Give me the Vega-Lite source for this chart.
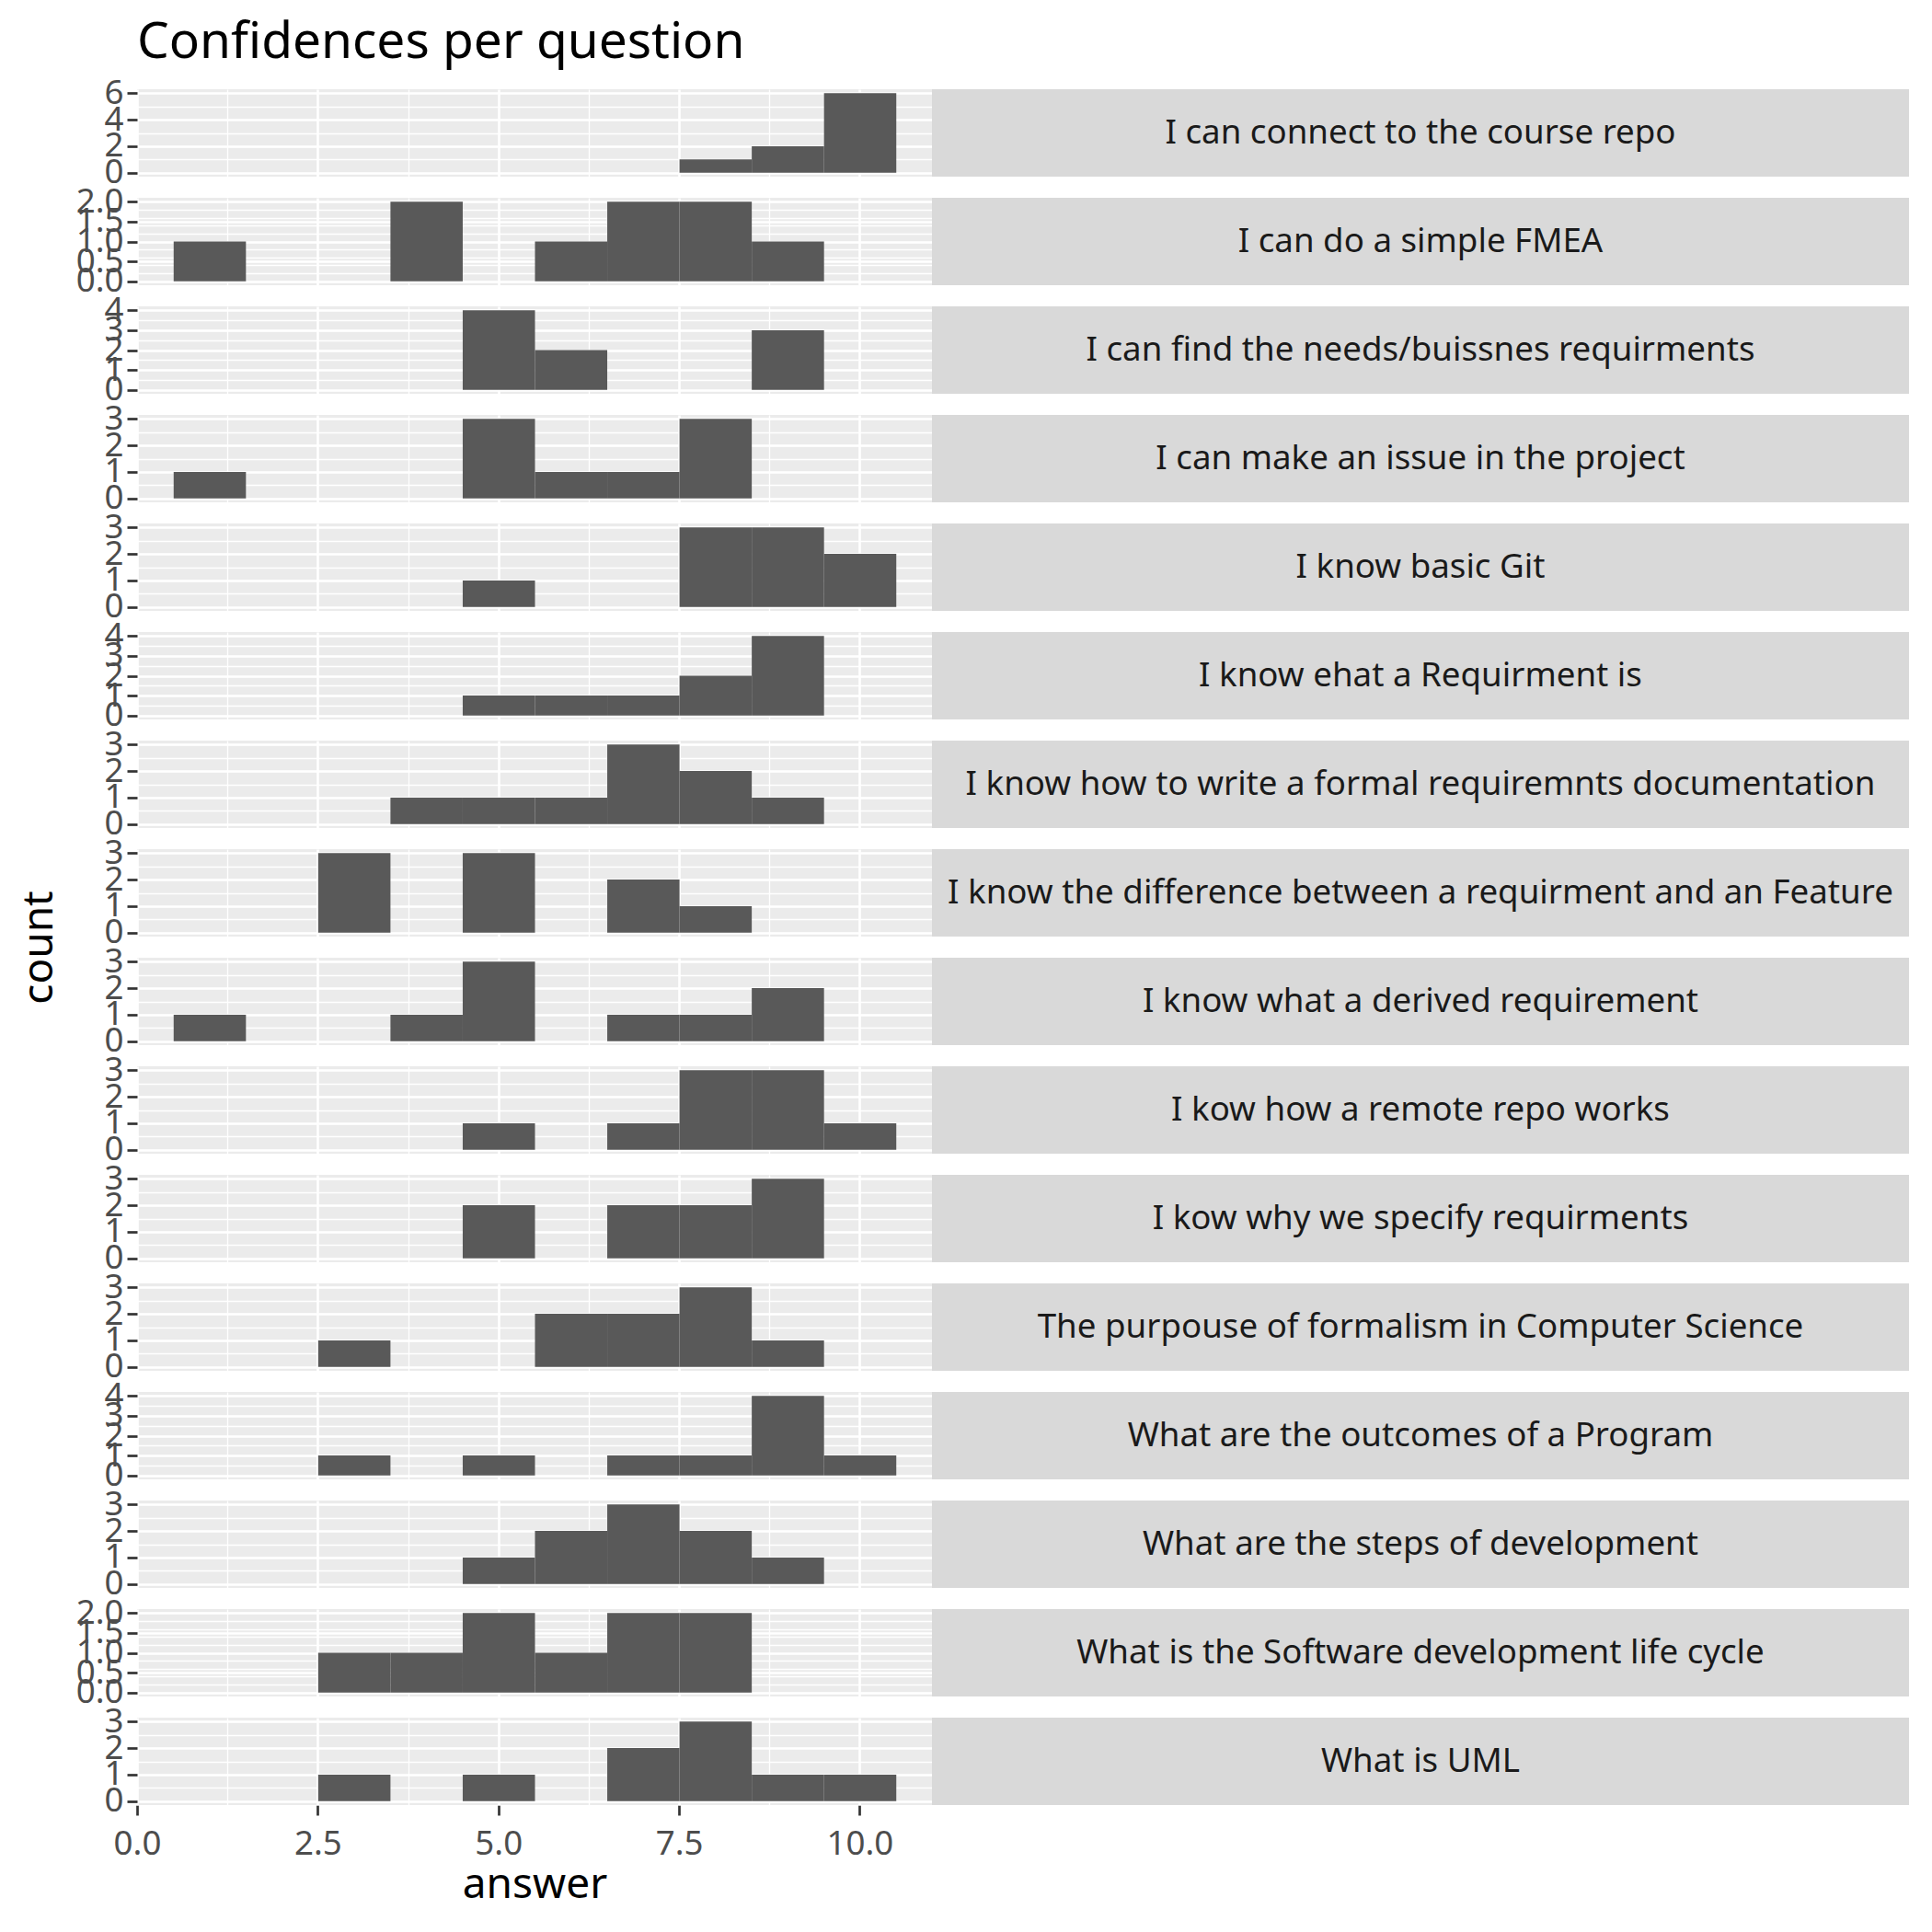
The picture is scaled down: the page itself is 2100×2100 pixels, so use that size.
{
  "$schema": "https://vega.github.io/schema/vega-lite/v6.json",
  "background": "white",
  "padding": {"left": 20, "top": 19, "right": 0, "bottom": 0},
  "title": {"text": "Confidences per question", "anchor": "start", "fontSize": 55, "fontWeight": "normal", "font": "Noto Sans", "color": "black", "offset": 8, "dx": 129},
  "config": {"font": "Noto Sans", "view": {"stroke": null}},
  "datasets": {
    "bars": [
      {"question": "I can connect to the course repo", "answer": 8, "count": 1},
      {"question": "I can connect to the course repo", "answer": 9, "count": 2},
      {"question": "I can connect to the course repo", "answer": 10, "count": 6},
      {"question": "I can do a simple FMEA", "answer": 1, "count": 1},
      {"question": "I can do a simple FMEA", "answer": 4, "count": 2},
      {"question": "I can do a simple FMEA", "answer": 6, "count": 1},
      {"question": "I can do a simple FMEA", "answer": 7, "count": 2},
      {"question": "I can do a simple FMEA", "answer": 8, "count": 2},
      {"question": "I can do a simple FMEA", "answer": 9, "count": 1},
      {"question": "I can find the needs/buissnes requirments", "answer": 5, "count": 4},
      {"question": "I can find the needs/buissnes requirments", "answer": 6, "count": 2},
      {"question": "I can find the needs/buissnes requirments", "answer": 9, "count": 3},
      {"question": "I can make an issue in the project", "answer": 1, "count": 1},
      {"question": "I can make an issue in the project", "answer": 5, "count": 3},
      {"question": "I can make an issue in the project", "answer": 6, "count": 1},
      {"question": "I can make an issue in the project", "answer": 7, "count": 1},
      {"question": "I can make an issue in the project", "answer": 8, "count": 3},
      {"question": "I know basic Git", "answer": 5, "count": 1},
      {"question": "I know basic Git", "answer": 8, "count": 3},
      {"question": "I know basic Git", "answer": 9, "count": 3},
      {"question": "I know basic Git", "answer": 10, "count": 2},
      {"question": "I know ehat a Requirment is", "answer": 5, "count": 1},
      {"question": "I know ehat a Requirment is", "answer": 6, "count": 1},
      {"question": "I know ehat a Requirment is", "answer": 7, "count": 1},
      {"question": "I know ehat a Requirment is", "answer": 8, "count": 2},
      {"question": "I know ehat a Requirment is", "answer": 9, "count": 4},
      {"question": "I know how to write a formal requiremnts documentation", "answer": 4, "count": 1},
      {"question": "I know how to write a formal requiremnts documentation", "answer": 5, "count": 1},
      {"question": "I know how to write a formal requiremnts documentation", "answer": 6, "count": 1},
      {"question": "I know how to write a formal requiremnts documentation", "answer": 7, "count": 3},
      {"question": "I know how to write a formal requiremnts documentation", "answer": 8, "count": 2},
      {"question": "I know how to write a formal requiremnts documentation", "answer": 9, "count": 1},
      {"question": "I know the difference between a requirment and an Feature", "answer": 3, "count": 3},
      {"question": "I know the difference between a requirment and an Feature", "answer": 5, "count": 3},
      {"question": "I know the difference between a requirment and an Feature", "answer": 7, "count": 2},
      {"question": "I know the difference between a requirment and an Feature", "answer": 8, "count": 1},
      {"question": "I know what a derived requirement", "answer": 1, "count": 1},
      {"question": "I know what a derived requirement", "answer": 4, "count": 1},
      {"question": "I know what a derived requirement", "answer": 5, "count": 3},
      {"question": "I know what a derived requirement", "answer": 7, "count": 1},
      {"question": "I know what a derived requirement", "answer": 8, "count": 1},
      {"question": "I know what a derived requirement", "answer": 9, "count": 2},
      {"question": "I kow how a remote repo works", "answer": 5, "count": 1},
      {"question": "I kow how a remote repo works", "answer": 7, "count": 1},
      {"question": "I kow how a remote repo works", "answer": 8, "count": 3},
      {"question": "I kow how a remote repo works", "answer": 9, "count": 3},
      {"question": "I kow how a remote repo works", "answer": 10, "count": 1},
      {"question": "I kow why we specify requirments", "answer": 5, "count": 2},
      {"question": "I kow why we specify requirments", "answer": 7, "count": 2},
      {"question": "I kow why we specify requirments", "answer": 8, "count": 2},
      {"question": "I kow why we specify requirments", "answer": 9, "count": 3},
      {"question": "The purpouse of formalism in Computer Science", "answer": 3, "count": 1},
      {"question": "The purpouse of formalism in Computer Science", "answer": 6, "count": 2},
      {"question": "The purpouse of formalism in Computer Science", "answer": 7, "count": 2},
      {"question": "The purpouse of formalism in Computer Science", "answer": 8, "count": 3},
      {"question": "The purpouse of formalism in Computer Science", "answer": 9, "count": 1},
      {"question": "What are the outcomes of a Program", "answer": 3, "count": 1},
      {"question": "What are the outcomes of a Program", "answer": 5, "count": 1},
      {"question": "What are the outcomes of a Program", "answer": 7, "count": 1},
      {"question": "What are the outcomes of a Program", "answer": 8, "count": 1},
      {"question": "What are the outcomes of a Program", "answer": 9, "count": 4},
      {"question": "What are the outcomes of a Program", "answer": 10, "count": 1},
      {"question": "What are the steps of development", "answer": 5, "count": 1},
      {"question": "What are the steps of development", "answer": 6, "count": 2},
      {"question": "What are the steps of development", "answer": 7, "count": 3},
      {"question": "What are the steps of development", "answer": 8, "count": 2},
      {"question": "What are the steps of development", "answer": 9, "count": 1},
      {"question": "What is the Software development life cycle", "answer": 3, "count": 1},
      {"question": "What is the Software development life cycle", "answer": 4, "count": 1},
      {"question": "What is the Software development life cycle", "answer": 5, "count": 2},
      {"question": "What is the Software development life cycle", "answer": 6, "count": 1},
      {"question": "What is the Software development life cycle", "answer": 7, "count": 2},
      {"question": "What is the Software development life cycle", "answer": 8, "count": 2},
      {"question": "What is UML", "answer": 3, "count": 1},
      {"question": "What is UML", "answer": 5, "count": 1},
      {"question": "What is UML", "answer": 7, "count": 2},
      {"question": "What is UML", "answer": 8, "count": 3},
      {"question": "What is UML", "answer": 9, "count": 1},
      {"question": "What is UML", "answer": 10, "count": 1}
    ],
    "questions": [
      {"question": "I can connect to the course repo"},
      {"question": "I can do a simple FMEA"},
      {"question": "I can find the needs/buissnes requirments"},
      {"question": "I can make an issue in the project"},
      {"question": "I know basic Git"},
      {"question": "I know ehat a Requirment is"},
      {"question": "I know how to write a formal requiremnts documentation"},
      {"question": "I know the difference between a requirment and an Feature"},
      {"question": "I know what a derived requirement"},
      {"question": "I kow how a remote repo works"},
      {"question": "I kow why we specify requirments"},
      {"question": "The purpouse of formalism in Computer Science"},
      {"question": "What are the outcomes of a Program"},
      {"question": "What are the steps of development"},
      {"question": "What is the Software development life cycle"},
      {"question": "What is UML"}
    ]
  },
  "spacing": 0,
  "hconcat": [
    {
      "data": {"name": "bars"},
      "bounds": "flush",
      "facet": {
        "row": {
          "field": "question", "type": "nominal",
          "sort": ["I can connect to the course repo", "I can do a simple FMEA", "I can find the needs/buissnes requirments", "I can make an issue in the project", "I know basic Git", "I know ehat a Requirment is", "I know how to write a formal requiremnts documentation", "I know the difference between a requirment and an Feature", "I know what a derived requirement", "I kow how a remote repo works", "I kow why we specify requirments", "The purpouse of formalism in Computer Science", "What are the outcomes of a Program", "What are the steps of development", "What is the Software development life cycle", "What is UML"],
          "header": {"labels": false, "title": "count", "titleFontSize": 46, "titleFontWeight": "normal", "titleColor": "black", "titleFont": "Noto Sans", "titlePadding": 72}
        }
      },
      "spacing": {"row": 23},
      "resolve": {"scale": {"y": "independent"}},
      "spec": {
        "width": 864,
        "height": 95,
        "view": {"fill": "#EBEBEB", "stroke": null},
        "resolve": {"axis": {"y": "independent"}},
        "layer": [
          {
            "mark": {"type": "bar", "color": "#595959", "binSpacing": 0},
            "encoding": {
              "x": {
                "field": "answer", "type": "quantitative",
                "bin": {"extent": [0.5, 10.5], "step": 1, "nice": false},
                "scale": {"domain": [0, 11], "nice": false, "zero": false},
                "axis": {
                  "values": [0, 1.25, 2.5, 3.75, 5, 6.25, 7.5, 8.75, 10],
                  "labelExpr": "datum.value % 2.5 === 0 ? format(datum.value, '.1f') : ''",
                  "grid": true, "gridColor": "white",
                  "gridWidth": {"condition": {"test": "datum.value % 2.5 === 0", "value": 2.6}, "value": 1.3},
                  "tickOpacity": {"condition": {"test": "datum.value % 2.5 === 0", "value": 1}, "value": 0},
                  "tickColor": "#333333", "tickWidth": 2.7, "tickSize": 11,
                  "labelFontSize": 36.7, "labelColor": "#4D4D4D", "labelPadding": 13,
                  "labelFlush": false, "labelOverlap": false, "domain": false,
                  "title": "answer", "titleFontSize": 46, "titleFontWeight": "normal", "titleColor": "black", "titlePadding": 4
                }
              },
              "y": {
                "field": "count", "type": "quantitative",
                "scale": {"zero": true, "nice": false, "padding": 4.3},
                "axis": {
                  "orient": "left", "tickCount": 4, "grid": true, "gridColor": "white", "gridWidth": 2.6,
                  "tickColor": "#333333", "tickWidth": 2.7, "tickSize": 11,
                  "labelFontSize": 36.7, "labelColor": "#4D4D4D", "labelPadding": 4,
                  "domain": false, "title": null, "labelOverlap": false, "labelFlush": false, "labelBound": false
                }
              }
            }
          },
          {
            "mark": {"type": "bar", "opacity": 0, "binSpacing": 0},
            "encoding": {
              "x": {
                "field": "answer", "type": "quantitative",
                "bin": {"extent": [0.5, 10.5], "step": 1, "nice": false},
                "scale": {"domain": [0, 11], "nice": false, "zero": false},
                "axis": {
                  "values": [0, 1.25, 2.5, 3.75, 5, 6.25, 7.5, 8.75, 10],
                  "labelExpr": "datum.value % 2.5 === 0 ? format(datum.value, '.1f') : ''",
                  "grid": true, "gridColor": "white",
                  "gridWidth": {"condition": {"test": "datum.value % 2.5 === 0", "value": 2.6}, "value": 1.3},
                  "tickOpacity": {"condition": {"test": "datum.value % 2.5 === 0", "value": 1}, "value": 0},
                  "tickColor": "#333333", "tickWidth": 2.7, "tickSize": 11,
                  "labelFontSize": 36.7, "labelColor": "#4D4D4D", "labelPadding": 13,
                  "labelFlush": false, "labelOverlap": false, "domain": false,
                  "title": "answer", "titleFontSize": 46, "titleFontWeight": "normal", "titleColor": "black", "titlePadding": 4
                }
              },
              "y": {
                "field": "count", "type": "quantitative",
                "scale": {"zero": true, "nice": false, "padding": 4.3},
                "axis": {
                  "orient": "right", "tickCount": 8, "grid": true, "gridColor": "white", "gridWidth": 1.3,
                  "ticks": false, "labels": false, "domain": false, "title": null
                }
              }
            }
          }
        ]
      }
    },
    {
      "data": {"name": "questions"},
      "bounds": "flush",
      "facet": {
        "row": {
          "field": "question", "type": "nominal",
          "sort": ["I can connect to the course repo", "I can do a simple FMEA", "I can find the needs/buissnes requirments", "I can make an issue in the project", "I know basic Git", "I know ehat a Requirment is", "I know how to write a formal requiremnts documentation", "I know the difference between a requirment and an Feature", "I know what a derived requirement", "I kow how a remote repo works", "I kow why we specify requirments", "The purpouse of formalism in Computer Science", "What are the outcomes of a Program", "What are the steps of development", "What is the Software development life cycle", "What is UML"],
          "header": {"labels": false, "title": null}
        }
      },
      "spacing": {"row": 23},
      "spec": {
        "width": 1062,
        "height": 95,
        "view": {"fill": "#D9D9D9", "stroke": null},
        "mark": {"type": "text", "fontSize": 36.7, "font": "Noto Sans", "color": "#1A1A1A", "align": "center", "baseline": "middle"},
        "encoding": {"text": {"field": "question", "type": "nominal"}}
      }
    }
  ]
}
